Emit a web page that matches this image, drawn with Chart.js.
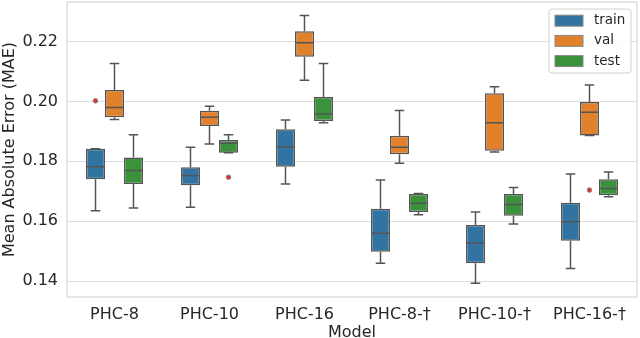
<!DOCTYPE html>
<html>
<head>
<meta charset="utf-8">
<script src="https://cdn.jsdelivr.net/npm/chart.js@4"></script>
<style>
  html, body { margin: 0; padding: 0; background: #fff; }
  canvas { display: block; }
</style>
</head>
<body>
<canvas id="chart" width="640" height="338"></canvas>
<script>
const categories = ["PHC-8", "PHC-10", "PHC-16", "PHC-8-†", "PHC-10-†", "PHC-16-†"];
const yTicks = [0.14, 0.16, 0.18, 0.20, 0.22];

// box stats per series: lower whisker, q1, median, q3, upper whisker, outliers
const trainLo  = [0.1635, 0.1647, 0.1724, 0.1460, 0.1393, 0.1442];
const trainQ1  = [0.1740, 0.1720, 0.1782, 0.1498, 0.1460, 0.1535];
const trainMed = [0.1782, 0.1753, 0.1849, 0.1560, 0.1527, 0.1598];
const trainQ3  = [0.1842, 0.1780, 0.1907, 0.1642, 0.1587, 0.1662];
const trainHi  = [0.1842, 0.1847, 0.1938, 0.1738, 0.1631, 0.1758];
const trainOut = [[0.2002], [], [], [], [], []];

const valLo  = [0.1940, 0.1858, 0.2071, 0.1794, 0.1831, 0.1886];
const valQ1  = [0.1947, 0.1918, 0.2149, 0.1824, 0.1835, 0.1886];
const valMed = [0.1980, 0.1947, 0.2196, 0.1847, 0.1929, 0.1964];
const valQ3  = [0.2038, 0.1969, 0.2234, 0.1885, 0.2027, 0.1998];
const valHi  = [0.2127, 0.1984, 0.2287, 0.1970, 0.2049, 0.2055];
const valOut = [[], [], [], [], [], [0.1704]];

const testLo  = [0.1644, 0.1829, 0.1929, 0.1622, 0.1591, 0.1682];
const testQ1  = [0.1724, 0.1829, 0.1935, 0.1631, 0.1618, 0.1687];
const testMed = [0.1769, 0.1860, 0.1958, 0.1660, 0.1656, 0.1709];
const testQ3  = [0.1813, 0.1871, 0.2015, 0.1691, 0.1691, 0.1740];
const testHi  = [0.1889, 0.1889, 0.2127, 0.1693, 0.1713, 0.1764];
const testOut = [[], [0.1747], [], [], [], []];

const lineGrey = "#555555";
const textColor = "#262626";
const font = "DejaVu Sans";

const series = [
  { label: "train", color: "#3274a1", lo: trainLo, q1: trainQ1, med: trainMed, q3: trainQ3, hi: trainHi, out: trainOut },
  { label: "val",   color: "#e1812c", lo: valLo,   q1: valQ1,   med: valMed,   q3: valQ3,   hi: valHi,   out: valOut },
  { label: "test",  color: "#3a923a", lo: testLo,  q1: testQ1,  med: testMed,  q3: testQ3,  hi: testHi,  out: testOut }
];

// whiskers, medians, fliers drawn on top of the floating bars
const boxExtras = {
  id: "boxExtras",
  afterDatasetsDraw(chart) {
    const ctx = chart.ctx;
    const y = chart.scales.y;
    ctx.save();
    ctx.strokeStyle = lineGrey;
    ctx.lineWidth = 1.5;
    series.forEach((s, i) => {
      const meta = chart.getDatasetMeta(i);
      meta.data.forEach((bar, j) => {
        const x = bar.x, w = bar.width;
        const cap = w / 4;
        ctx.beginPath();
        // upper whisker
        ctx.moveTo(x, y.getPixelForValue(s.q3[j]));
        ctx.lineTo(x, y.getPixelForValue(s.hi[j]));
        ctx.moveTo(x - cap, y.getPixelForValue(s.hi[j]));
        ctx.lineTo(x + cap, y.getPixelForValue(s.hi[j]));
        // lower whisker
        ctx.moveTo(x, y.getPixelForValue(s.q1[j]));
        ctx.lineTo(x, y.getPixelForValue(s.lo[j]));
        ctx.moveTo(x - cap, y.getPixelForValue(s.lo[j]));
        ctx.lineTo(x + cap, y.getPixelForValue(s.lo[j]));
        // median
        ctx.moveTo(x - w / 2 + 1, y.getPixelForValue(s.med[j]));
        ctx.lineTo(x + w / 2 - 1, y.getPixelForValue(s.med[j]));
        ctx.stroke();
        s.out[j].forEach(v => {
          ctx.beginPath();
          ctx.arc(x, y.getPixelForValue(v), 2.3, 0, Math.PI * 2);
          ctx.fillStyle = "#ec2a2a";
          ctx.fill();
          ctx.lineWidth = 1;
          ctx.strokeStyle = "#8a8a8a";
          ctx.stroke();
          ctx.lineWidth = 1.5;
          ctx.strokeStyle = lineGrey;
        });
      });
    });
    ctx.restore();
  }
};

// frame around plot area + legend box in the upper right
const frameAndLegend = {
  id: "frameAndLegend",
  afterDraw(chart) {
    const ctx = chart.ctx;
    const a = chart.chartArea;
    ctx.save();
    ctx.strokeStyle = "#d6d6d6";
    ctx.lineWidth = 1.2;
    ctx.strokeRect(a.left, a.top, a.right - a.left, a.bottom - a.top);

    const lx = a.right - 88, ly = a.top + 7, lw = 82, lh = 64;
    ctx.beginPath();
    ctx.roundRect(lx, ly, lw, lh, 3);
    ctx.fillStyle = "rgba(255,255,255,0.85)";
    ctx.fill();
    ctx.strokeStyle = "#d0d0d0";
    ctx.lineWidth = 1;
    ctx.stroke();

    ctx.font = "13.5px '" + font + "'";
    ctx.textBaseline = "middle";
    series.forEach((s, i) => {
      const ry = ly + 11.7 + i * 20.2;
      ctx.fillStyle = s.color;
      ctx.fillRect(lx + 6, ry - 5.5, 28, 11);
      ctx.strokeStyle = "#888888";
      ctx.lineWidth = 1;
      ctx.strokeRect(lx + 6, ry - 5.5, 28, 11);
      ctx.fillStyle = textColor;
      ctx.fillText(s.label, lx + 45, ry);
    });
    ctx.restore();
  }
};

new Chart(document.getElementById("chart"), {
  type: "bar",
  data: {
    labels: categories,
    datasets: series.map(s => ({
      label: s.label,
      data: s.q1.map((v, j) => [v, s.q3[j]]),
      backgroundColor: s.color,
      borderColor: lineGrey,
      borderWidth: 1.5,
      borderSkipped: false,
      categoryPercentage: 0.6,
      barPercentage: 1.0
    }))
  },
  options: {
    responsive: false,
    animation: false,
    layout: { padding: { top: 2, right: 3, left: 0, bottom: 0 } },
    plugins: {
      legend: { display: false },
      tooltip: { enabled: false }
    },
    scales: {
      x: {
        grid: { display: false, drawTicks: false },
        border: { display: false },
        ticks: { color: textColor, font: { family: font, size: 16 }, padding: 8 },
        title: { display: true, text: "Model", color: textColor, font: { family: font, size: 16, lineHeight: 0.6 }, padding: { top: 0, bottom: 0 } },
        afterFit(scale) { scale.height = 41; scale.paddingLeft = 0; scale.paddingRight = 0; }
      },
      y: {
        min: 0.1347,
        max: 0.2332,
        grid: { color: "#dedede", lineWidth: 1, drawTicks: false },
        border: { display: false },
        ticks: {
          color: textColor,
          font: { family: font, size: 16 },
          padding: 9,
          callback: v => v.toFixed(2)
        },
        afterBuildTicks(scale) { scale.ticks = yTicks.map(v => ({ value: v })); },
        title: { display: true, text: "Mean Absolute Error (MAE)", color: textColor, font: { family: font, size: 16, lineHeight: 1 }, padding: { top: 2, bottom: 0 } },
        afterFit(scale) { scale.width = 67; scale.paddingTop = 0; scale.paddingBottom = 0; }
      }
    }
  },
  plugins: [boxExtras, frameAndLegend]
});
</script>
</body>
</html>
